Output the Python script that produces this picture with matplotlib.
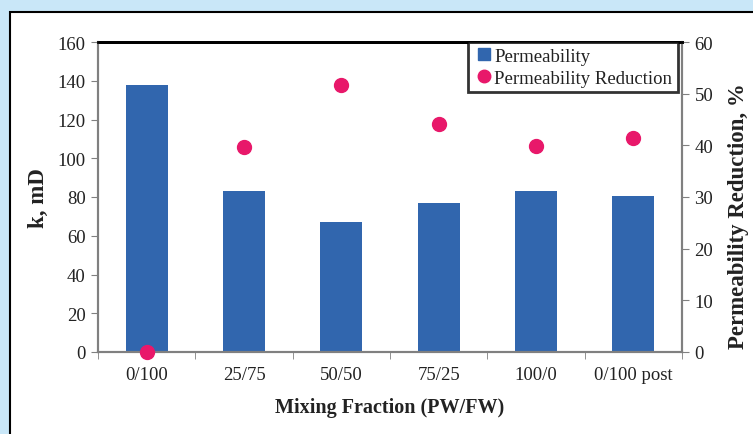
import numpy as np
import matplotlib.pyplot as plt
from matplotlib.patches import Rectangle
from matplotlib.lines import Line2D

# Data
categories = ['0/100', '25/75', '50/50', '75/25', '100/0', '0/100 post']
permeability = [138, 83, 67, 77, 83, 80.5]
reduction = [0, 39.6, 51.7, 44.1, 39.9, 41.4]

plt.rcParams['font.family'] = ['Liberation Serif', 'DejaVu Serif']

W, H = 753, 435
fig = plt.figure(figsize=(W / 100, H / 100), dpi=100)
fig.patch.set_facecolor('#c9e7f8')

# white panel with black border
fig.patches.append(Rectangle((10 / W, -0.1), 1.0, (H - 13) / H + 0.1,
                             transform=fig.transFigure, facecolor='white',
                             edgecolor='black', linewidth=1.5, zorder=-10))

ax = fig.add_axes([98 / W, (H - 353) / H, (682 - 98) / W, (353 - 43) / H])
ax.set_facecolor('white')

x = np.arange(len(categories))
bar_color = '#3166ae'
dot_color = '#e8186a'
ax.bar(x, permeability, width=0.43, color=bar_color, zorder=2)
ax.set_xlim(-0.5, len(categories) - 0.5)
ax.set_ylim(0, 160)
ax.set_yticks(np.arange(0, 161, 20))

ax2 = ax.twinx()
ax2.plot(x, reduction, 'o', color=dot_color, markersize=10, clip_on=False, zorder=5)
ax2.set_ylim(0, 60)
ax2.set_yticks(np.arange(0, 61, 10))

gray = '#808080'
tick_fs = 13.5
for a in (ax, ax2):
    for s in ('left', 'right', 'bottom'):
        a.spines[s].set_color(gray)
        a.spines[s].set_linewidth(1.5)
    a.spines['top'].set_color('black')
    a.spines['top'].set_linewidth(2)
ax.tick_params(axis='y', direction='out', length=5, color=gray, labelsize=tick_fs,
               labelcolor='#222222', pad=4)
ax2.tick_params(axis='y', direction='out', length=5, color=gray, labelsize=tick_fs,
                labelcolor='#222222', pad=4)

# category labels centered, ticks at boundaries
ax.set_xticks(x)
ax.set_xticklabels(categories, fontsize=tick_fs, color='#222222')
ax.tick_params(axis='x', which='major', length=0, pad=10)
ax.set_xticks(np.arange(-0.5, len(categories), 1), minor=True)
ax.tick_params(axis='x', which='minor', direction='out', length=5, color=gray)

ax.set_ylabel('k, mD', fontsize=16.5, fontweight='bold', labelpad=6, color='#222222')
ax2.set_ylabel('Permeability Reduction, %', fontsize=16.5, fontweight='bold',
               color='#222222')
ax2.yaxis.set_label_coords(1.079, 0.44)
ax.set_xlabel('Mixing Fraction (PW/FW)', fontsize=14.5, fontweight='bold',
              labelpad=10, color='#222222')

handles = [Line2D([], [], marker='s', linestyle='none', color=bar_color, markersize=8),
           Line2D([], [], marker='o', linestyle='none', color=dot_color, markersize=9)]
leg = ax2.legend(handles, ['Permeability', 'Permeability Reduction'], loc='upper right',
                 bbox_to_anchor=(0.993, 1.0), fontsize=tick_fs, frameon=True, fancybox=False,
                 handletextpad=0.0, handlelength=1.1, borderpad=0.3, labelspacing=0.25,
                 borderaxespad=0.0)
leg.get_frame().set_edgecolor('black')
leg.get_frame().set_linewidth(2)
for t in leg.get_texts():
    t.set_color('#222222')

fig.savefig('out.png', dpi=100, facecolor=fig.get_facecolor())
